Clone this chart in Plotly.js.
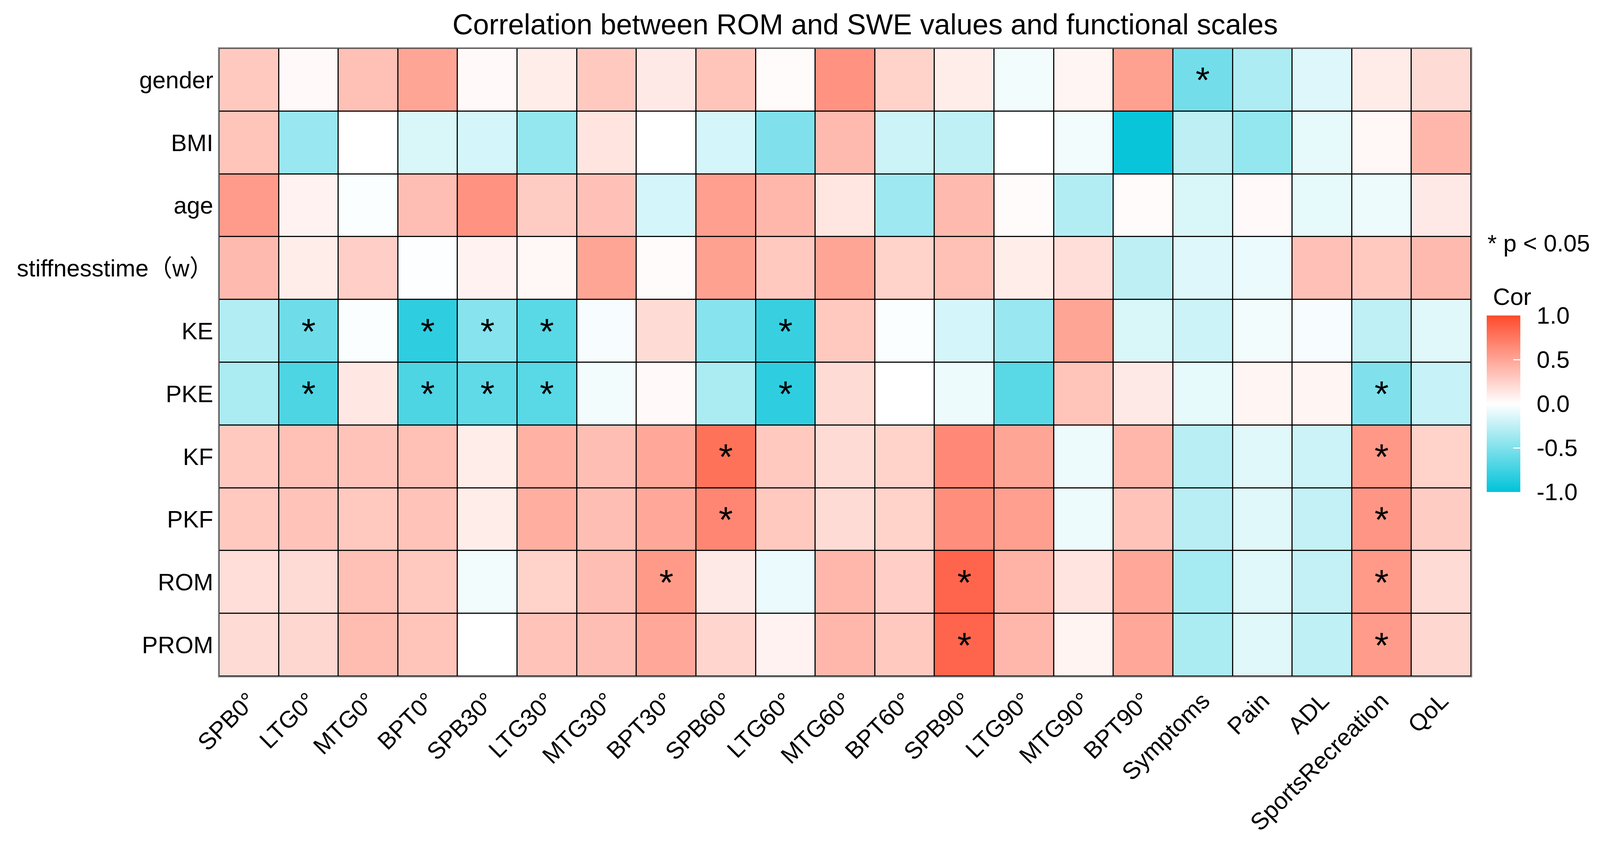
<!DOCTYPE html>
<html>
<head>
<meta charset="utf-8">
<script src="https://cdn.plot.ly/plotly-3.0.1.min.js"></script>
<style>html,body{margin:0;padding:0;background:#fff;overflow:hidden;}</style>
</head>
<body>
<div id="chart"></div>
<script>
// ---- data ----
const rowLabels = ["gender","BMI","age","stiffnesstime（w）","KE","PKE","KF","PKF","ROM","PROM"];
const colLabels = ["SPB0°","LTG0°","MTG0°","BPT0°","SPB30°","LTG30°","MTG30°","BPT30°","SPB60°","LTG60°","MTG60°","BPT60°","SPB90°","LTG90°","MTG90°","BPT90°","Symptoms","Pain","ADL","SportsRecreation","QoL"];

const cor_gender = [0.30,0.03,0.35,0.50,0.03,0.10,0.30,0.12,0.32,0.02,0.60,0.25,0.10,-0.05,0.05,0.52,-0.55,-0.32,-0.13,0.11,0.20];
const cor_BMI    = [0.32,-0.40,0.00,-0.15,-0.17,-0.42,0.15,0.00,-0.17,-0.50,0.38,-0.20,-0.25,0.00,-0.05,-0.97,-0.26,-0.42,-0.10,0.04,0.40];
const cor_age    = [0.55,0.07,-0.02,0.36,0.60,0.28,0.34,-0.17,0.53,0.40,0.14,-0.38,0.38,0.02,-0.30,0.02,-0.15,0.03,-0.10,-0.07,0.12];
const cor_stiff  = [0.38,0.10,0.27,-0.01,0.07,0.04,0.50,0.02,0.52,0.30,0.50,0.25,0.35,0.10,0.18,-0.26,-0.13,-0.08,0.34,0.30,0.38];
const cor_KE     = [-0.30,-0.57,-0.02,-0.82,-0.47,-0.65,-0.03,0.20,-0.47,-0.78,0.30,-0.02,-0.17,-0.40,0.50,-0.15,-0.20,-0.05,-0.03,-0.25,-0.12];
const cor_PKE    = [-0.33,-0.70,0.13,-0.70,-0.62,-0.65,-0.05,0.03,-0.33,-0.82,0.20,0.00,-0.07,-0.65,0.32,0.12,-0.10,0.05,0.05,-0.50,-0.22];
const cor_KF     = [0.30,0.35,0.33,0.35,0.10,0.43,0.36,0.48,0.78,0.30,0.20,0.25,0.65,0.50,-0.07,0.40,-0.28,-0.12,-0.20,0.57,0.25];
const cor_PKF    = [0.30,0.33,0.30,0.33,0.10,0.45,0.36,0.48,0.67,0.30,0.20,0.25,0.62,0.53,-0.07,0.33,-0.28,-0.12,-0.23,0.58,0.28];
const cor_ROM    = [0.18,0.20,0.35,0.30,-0.05,0.25,0.36,0.56,0.12,-0.08,0.40,0.27,0.85,0.42,0.15,0.48,-0.35,-0.12,-0.23,0.56,0.20];
const cor_PROM   = [0.20,0.22,0.37,0.32,0.00,0.33,0.36,0.48,0.23,0.07,0.40,0.30,0.85,0.40,0.06,0.48,-0.33,-0.12,-0.25,0.55,0.22];

// significance (p < 0.05): 1 = star
const sig_gender = [0,0,0,0,0,0,0,0,0,0,0,0,0,0,0,0,1,0,0,0,0];
const sig_BMI    = [0,0,0,0,0,0,0,0,0,0,0,0,0,0,0,0,0,0,0,0,0];
const sig_age    = [0,0,0,0,0,0,0,0,0,0,0,0,0,0,0,0,0,0,0,0,0];
const sig_stiff  = [0,0,0,0,0,0,0,0,0,0,0,0,0,0,0,0,0,0,0,0,0];
const sig_KE     = [0,1,0,1,1,1,0,0,0,1,0,0,0,0,0,0,0,0,0,0,0];
const sig_PKE    = [0,1,0,1,1,1,0,0,0,1,0,0,0,0,0,0,0,0,0,1,0];
const sig_KF     = [0,0,0,0,0,0,0,0,1,0,0,0,0,0,0,0,0,0,0,1,0];
const sig_PKF    = [0,0,0,0,0,0,0,0,1,0,0,0,0,0,0,0,0,0,0,1,0];
const sig_ROM    = [0,0,0,0,0,0,0,1,0,0,0,0,1,0,0,0,0,0,0,1,0];
const sig_PROM   = [0,0,0,0,0,0,0,0,0,0,0,0,1,0,0,0,0,0,0,1,0];

const cbTickVals = [-1,-0.5,0,0.5,1];
const cbTickText = ["-1.0","-0.5","0.0","0.5","1.0"];

// ---- build ----
const z = [cor_gender,cor_BMI,cor_age,cor_stiff,cor_KE,cor_PKE,cor_KF,cor_PKF,cor_ROM,cor_PROM];
const sig = [sig_gender,sig_BMI,sig_age,sig_stiff,sig_KE,sig_PKE,sig_KF,sig_PKF,sig_ROM,sig_PROM];
const txt = sig.map(r => r.map(s => s ? "*" : ""));
const cbLabels = cbTickText.map(t => '\u00A0\u2009' + t);   // small gap after the bar

const cs = [[0,'#00C3D9'],[0.5,'#FFFFFF'],[1,'#FF4A2C']];

// fit the design (4305 x 2177) to the real viewport
const W = window.innerWidth || 4305, H = window.innerHeight || 2177;
const sx = W/4305, sy = H/2177, k = Math.min(sx, sy);
const el = document.getElementById('chart');
el.style.width = W + 'px'; el.style.height = H + 'px';

const FONT = "Liberation Sans, Arial, Noto Sans CJK SC, sans-serif";
const fs = 64*k;

const trace = {
  type:'heatmap', x:colLabels, y:rowLabels, z:z, text:txt,
  texttemplate:'%{text}', textfont:{family:FONT,size:98*k,color:'#000'},
  zmin:-1, zmax:1, colorscale:cs, xgap:3*k, ygap:3*k, hoverinfo:'skip',
  colorbar:{
    thickness:90*sx, thicknessmode:'pixels', len:452*sy, lenmode:'pixels',
    x:1.0125, xanchor:'left', y:0.434, yanchor:'middle', xpad:0, ypad:0,
    outlinewidth:0, tickmode:'array', tickvals:cbTickVals, ticktext:cbLabels,
    ticks:'inside', ticklen:18*k, tickwidth:3*k, tickcolor:'#fff',
    tickfont:{family:FONT,size:fs,color:'#000'}
  }
};

const layout = {
  width:W, height:H,
  margin:{l:590*sx, r:347*sx, t:124*sy, b:445*sy, pad:0},
  paper_bgcolor:'#fff', plot_bgcolor:'#000',
  font:{family:FONT,size:fs,color:'#000'},
  title:{text:'Correlation between ROM and SWE values and functional scales',
    font:{family:FONT,size:77*k,color:'#000'}, x:0.516, xref:'paper', xanchor:'center',
    y:1-62/2177, yref:'container', yanchor:'middle'},
  xaxis:{type:'category', tickangle:-45, ticks:'', showgrid:false, zeroline:false,
    showline:true, mirror:true, linecolor:'#8a8a8a', linewidth:3*k,
    tickfont:{family:FONT,size:fs,color:'#000'}, fixedrange:true},
  yaxis:{type:'category', autorange:'reversed', ticks:'', showgrid:false, zeroline:false,
    showline:true, mirror:true, linecolor:'#8a8a8a', linewidth:3*k, ticklabelstandoff:14*k,
    tickfont:{family:FONT,size:fs,color:'#000'}, fixedrange:true},
  annotations:[
    {text:'* p < 0.05', xref:'paper', yref:'paper', x:1.0125, y:0.6897,
     xanchor:'left', yanchor:'middle', showarrow:false, font:{family:FONT,size:fs,color:'#000'}},
    {text:'Cor', xref:'paper', yref:'paper', x:1.017, y:0.6045,
     xanchor:'left', yanchor:'middle', showarrow:false, font:{family:FONT,size:fs,color:'#000'}}
  ]
};

Plotly.newPlot('chart',[trace],layout,{staticPlot:true});
</script>
</body>
</html>
